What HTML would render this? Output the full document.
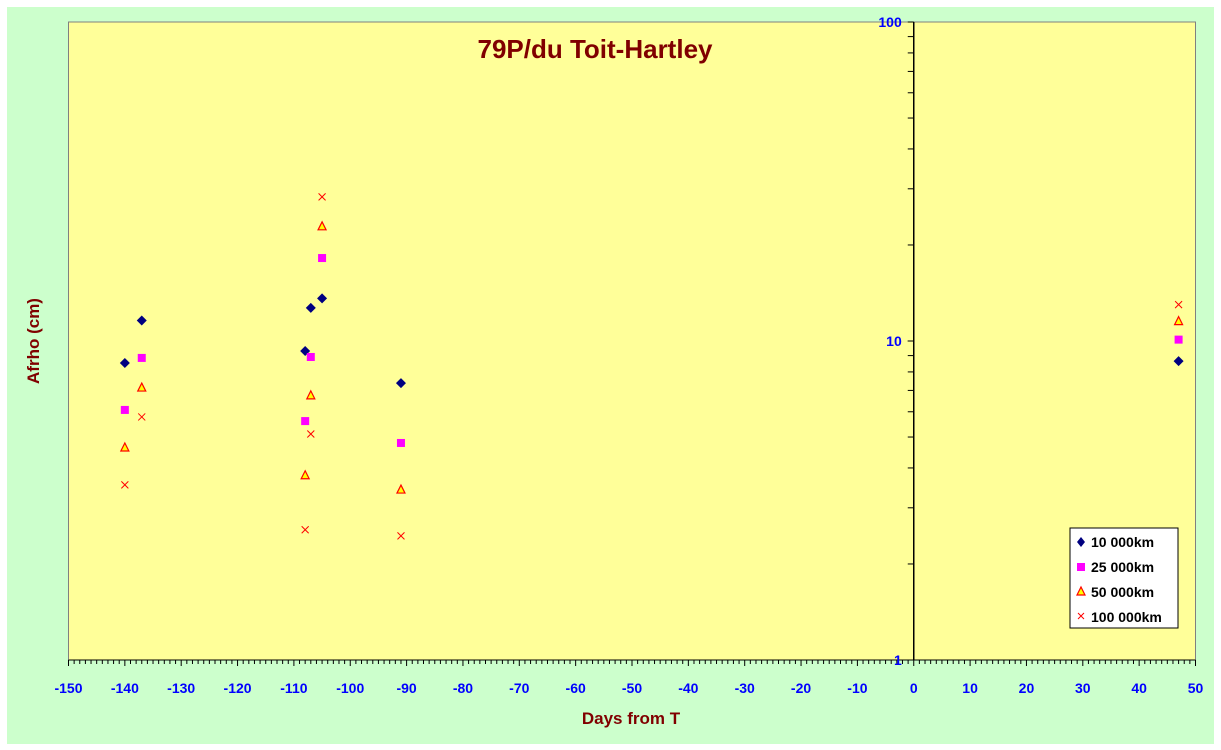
<!DOCTYPE html>
<html><head><meta charset="utf-8"><style>
body{margin:0;background:#fff;font-family:"Liberation Sans",Arial,sans-serif}
svg{display:block}
text{font-family:"Liberation Sans",Arial,sans-serif;font-weight:bold}
</style></head><body>
<svg id="chart" width="1221" height="750">
<rect x="7" y="7" width="1207" height="737" fill="#ccffcc"/>
<rect x="68.5" y="22" width="1127" height="638" fill="#ffff99" stroke="#808080" stroke-width="1"/>
<text x="595" y="58" text-anchor="middle" font-size="26" fill="#800000">79P/du Toit-Hartley</text>
<text x="631" y="724" text-anchor="middle" font-size="17" fill="#800000">Days from T</text>
<text transform="translate(39,341) rotate(-90)" text-anchor="middle" font-size="17" fill="#800000">Afrho (cm)</text>
<g id="axes"></g>
<g id="marks"></g>
<g>
<rect x="1070" y="528" width="108" height="100" fill="#fff" stroke="#000"/>
<path d="M1081 537 l4 5 l-4 5 l-4 -5z" fill="#000080"/>
<text x="1091" y="547" font-size="14" fill="#000">10 000km</text>
<rect x="1077" y="563" width="8" height="8" fill="#ff00ff"/>
<text x="1091" y="572" font-size="14" fill="#000">25 000km</text>
<path d="M1081 587 l4 8 h-8z" fill="#ffff00" stroke="#ff0000" stroke-width="1.2"/>
<text x="1091" y="597" font-size="14" fill="#000">50 000km</text>
<path d="M1078 613 l6 6 M1084 613 l-6 6" stroke="#ff0000" stroke-width="1"/>
<text x="1091" y="622" font-size="14" fill="#000">100 000km</text>
</g>
</svg>
<script>
const days=[-140,-137,-108,-107,-105,-91,47];
const s10k=[8.53,11.6,9.3,12.7,13.6,7.38,8.65];
const s25k=[6.08,8.85,5.61,8.91,18.2,4.79,10.1];
const s50k=[4.62,7.12,3.78,6.73,22.8,3.41,11.5];
const s100k=[3.54,5.78,2.56,5.11,28.3,2.45,13.0];
const xTicks=[-150,-140,-130,-120,-110,-100,-90,-80,-70,-60,-50,-40,-30,-20,-10,0,10,20,30,40,50];
const yTicks=[1,10,100];
const NS="http://www.w3.org/2000/svg";
const X=d=>68.5+(d+150)*5.635;
const Y=v=>660-319*Math.log10(v);
const axes=document.getElementById('axes'),marks=document.getElementById('marks');
function mk(p,tag,a){const e=document.createElementNS(NS,tag);for(const k in a)e.setAttribute(k,a[k]);p.appendChild(e);return e;}
const xl=mk(axes,'line',{x1:68.5,y1:660,x2:1195.5,y2:660,stroke:'#000'});


for(let d=-150;d<=50;d++){mk(axes,'line',{x1:X(d),y1:660,x2:X(d),y2:d%10===0?666:664,stroke:'#000'});}
xTicks.forEach(t=>{const e=mk(axes,'text',{x:X(t),y:693,'text-anchor':'middle','font-size':14,fill:'#0000ff'});e.textContent=t;

});
const x0=X(0);
const yl=mk(axes,'line',{x1:x0,y1:22,x2:x0,y2:660,stroke:'#000','stroke-width':1.5});


for(let dec=1;dec<=10;dec*=10)for(let m=1;m<=10;m++){const v=dec*m;if(v>100)continue;mk(axes,'line',{x1:x0-6,y1:Y(v),x2:x0,y2:Y(v),stroke:'#000'});}
yTicks.forEach(t=>{const e=mk(axes,'text',{x:x0-12,y:Y(t)+5,'text-anchor':'end','font-size':14,fill:'#0000ff'});e.textContent=t;

});
days.forEach((d,i)=>{const x=X(d);
let y=Y(s10k[i]);const a=mk(marks,'path',{d:`M${x} ${y-5}l5 5l-5 5l-5 -5z`,fill:'#000080'});


y=Y(s25k[i]);const b=mk(marks,'rect',{x:x-4,y:y-4,width:8,height:8,fill:'#ff00ff'});


y=Y(s50k[i]);const c=mk(marks,'path',{d:`M${x} ${y-5}l4 8h-8z`,fill:'#ffff00',stroke:'#ff0000','stroke-width':1.2});


y=Y(s100k[i]);const e=mk(marks,'path',{d:`M${x-3.5} ${y-3.5}l7 7M${x+3.5} ${y-3.5}l-7 7`,stroke:'#ff0000','stroke-width':1});


});
</script>
</body></html>
